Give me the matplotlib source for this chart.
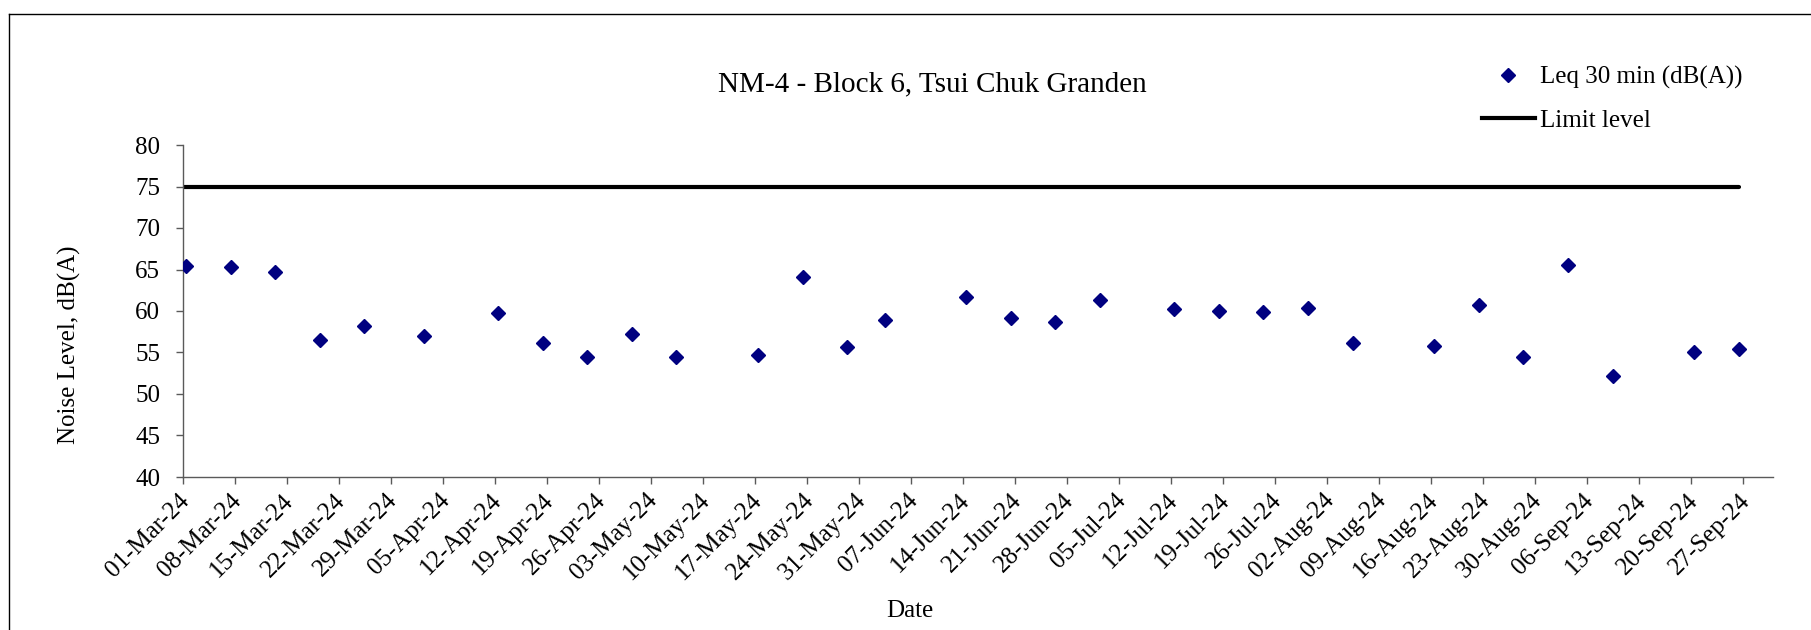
import matplotlib
matplotlib.use("Agg")
import matplotlib.pyplot as plt
import matplotlib.transforms as mtransforms
from matplotlib.lines import Line2D
import pandas as pd

# ---- data ----
dates = ["2024-03-01 10:00", "2024-03-07 10:00", "2024-03-13 10:00", "2024-03-19 10:00",
         "2024-03-25 10:00", "2024-04-02 10:00", "2024-04-12 10:00", "2024-04-18 10:00",
         "2024-04-24 10:00", "2024-04-30 10:00", "2024-05-06 10:00", "2024-05-17 10:00",
         "2024-05-23 10:00", "2024-05-29 10:00", "2024-06-03 10:00", "2024-06-14 10:00",
         "2024-06-20 10:00", "2024-06-26 10:00", "2024-07-02 10:00", "2024-07-12 10:00",
         "2024-07-18 10:00", "2024-07-24 10:00", "2024-07-30 10:00", "2024-08-05 10:00",
         "2024-08-16 10:00", "2024-08-22 10:00", "2024-08-28 10:00", "2024-09-03 10:00",
         "2024-09-09 10:00", "2024-09-20 10:00", "2024-09-26 10:00"]
leq = [65.4, 65.3, 64.7, 56.5, 58.2, 57.0, 59.8, 56.2, 54.4, 57.2, 54.5, 54.7,
       64.1, 55.7, 58.9, 61.7, 59.1, 58.7, 61.3, 60.3, 60.0, 59.9, 60.4, 56.2,
       55.8, 60.7, 54.4, 65.5, 52.2, 55.1, 55.4]
limit_dates = ["2024-03-01 00:00", "2024-09-26 10:00"]
limit_values = [75, 75]
tick_start = "2024-03-01"
tick_end = "2024-09-27"
x_min, x_max = "2024-03-01", "2024-10-01"
y_ticks = [40, 45, 50, 55, 60, 65, 70, 75, 80]

title = "NM-4 - Block 6, Tsui Chuk Granden"
label_leq = "Leq 30 min (dB(A))"
label_limit = "Limit level"

# ---- figure ----
W, H = 1811, 630
plt.rcParams['font.family'] = ['Liberation Serif', 'DejaVu Serif']
fig = plt.figure(figsize=(W / 100, H / 100), dpi=100)

def fx(px):
    return px / W

def fy(py):
    return 1 - py / H

ax = fig.add_axes([fx(183), fy(477), fx(1773 - 183), (477 - 145) / H])

d = pd.to_datetime(dates)
ld = pd.to_datetime(limit_dates)
ax.plot(ld, limit_values, color='black', lw=3, solid_capstyle='round',
        label=label_limit, zorder=2)
ax.plot(d, leq, linestyle='none', marker='D', ms=7.3, color='#000080',
        markeredgecolor='#000080', label=label_leq, zorder=3)

ax.set_xlim(pd.Timestamp(x_min), pd.Timestamp(x_max))
ax.set_ylim(40, 80)
ax.set_yticks(y_ticks)

ticks = pd.date_range(tick_start, tick_end, freq='7D')
ax.set_xticks(ticks)
ax.set_xticklabels([t.strftime('%d-%b-%y') for t in ticks])

axis_col = '#5a5a5a'
for s in ['top', 'right']:
    ax.spines[s].set_visible(False)
for s in ['left', 'bottom']:
    ax.spines[s].set_color(axis_col)
    ax.spines[s].set_linewidth(1.0)

ax.tick_params(axis='both', direction='out', length=5, width=1.0, color=axis_col,
               labelsize=18, labelcolor='black')
ax.tick_params(axis='y', pad=11.5)
ax.tick_params(axis='x', pad=9.5)
shift = mtransforms.ScaledTranslation(3 / 100, 0, fig.dpi_scale_trans)
for lbl in ax.get_xticklabels():
    lbl.set_rotation(45)
    lbl.set_ha('right')
    lbl.set_va('center')
    lbl.set_rotation_mode('anchor')
    lbl.set_transform(lbl.get_transform() + shift)

# axis titles
fig.text(fx(69), fy(345), "Noise Level, dB(A)", rotation=90, ha='center', va='center',
         fontsize=18)
fig.text(fx(910), fy(611), "Date", ha='center', va='center', fontsize=18)
fig.text(fx(932), fy(84), title, ha='center', va='center', fontsize=21)

# legend
handles = [Line2D([], [], linestyle='none', marker='D', ms=7.3, color='#000080'),
           Line2D([], [], color='black', lw=3)]
fig.legend(handles, [label_leq, label_limit], loc='upper left',
           bbox_to_anchor=(fx(1482), fy(66)), frameon=False, fontsize=18,
           handlelength=2.1, handletextpad=0.2, labelspacing=0.8,
           borderpad=0, borderaxespad=0)

# chart-area border
fig.add_artist(Line2D([fx(9), 1.01], [fy(14), fy(14)], color='black', lw=1.0,
                      transform=fig.transFigure))
fig.add_artist(Line2D([fx(9), fx(9)], [fy(14), -0.01], color='black', lw=1.0,
                      transform=fig.transFigure))

fig.savefig("out.png", dpi=100)
